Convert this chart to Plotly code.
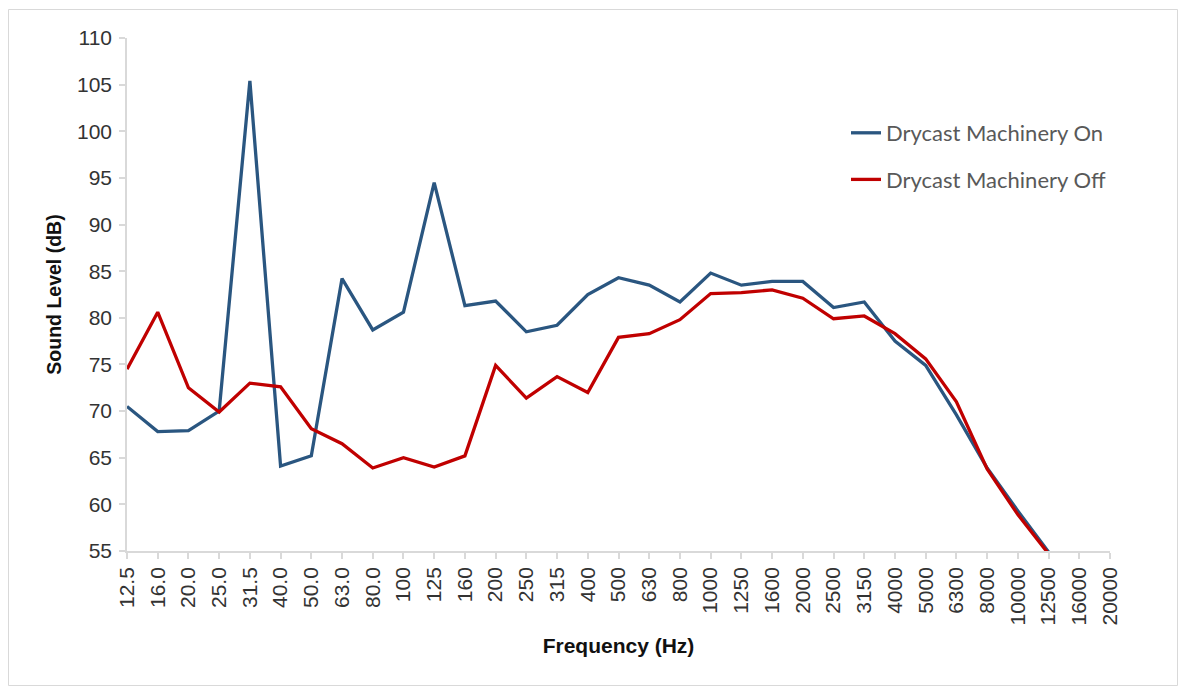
import plotly.graph_objects as go

freqs = ["12.5", "16.0", "20.0", "25.0", "31.5", "40.0", "50.0", "63.0", "80.0",
         "100", "125", "160", "200", "250", "315", "400", "500", "630", "800",
         "1000", "1250", "1600", "2000", "2500", "3150", "4000", "5000", "6300",
         "8000", "10000", "12500", "16000", "20000"]

machinery_on = [70.5, 67.8, 67.9, 70.0, 105.4, 64.1, 65.2, 84.2, 78.7,
                80.6, 94.5, 81.3, 81.8, 78.5, 79.2, 82.5, 84.3, 83.5, 81.7,
                84.8, 83.5, 83.9, 83.9, 81.1, 81.7, 77.5, 74.9, 69.6,
                63.9, 59.3, 54.9, None, None]

machinery_off = [74.5, 80.6, 72.5, 69.9, 73.0, 72.6, 68.1, 66.5, 63.9,
                 65.0, 64.0, 65.2, 74.9, 71.4, 73.7, 72.0, 77.9, 78.3, 79.8,
                 82.6, 82.7, 83.0, 82.1, 79.9, 80.2, 78.3, 75.6, 71.0,
                 63.8, 58.9, 54.7, None, None]

y_ticks = [55, 60, 65, 70, 75, 80, 85, 90, 95, 100, 105, 110]

fig = go.Figure()
fig.add_trace(go.Scatter(x=freqs, y=machinery_on, mode="lines",
                         name="Drycast Machinery On", legendgroup="a",
                         line=dict(color="#2a5680", width=3.3)))
fig.add_trace(go.Scatter(x=freqs, y=machinery_off, mode="lines",
                         name="Drycast Machinery Off", legendgroup="b",
                         line=dict(color="#c00000", width=3.3)))

OFF = 8  # page body margin
W, H = 1170, 678
# target plot area in screen pixels
SL, SR, ST, SB = 127, 1110, 38, 551
L = SL - OFF
T = ST - OFF
R = W - (SR - OFF)
B = H - (SB - OFF)
pw, ph = W - L - R, H - T - B

def px(xs):
    return (xs - OFF - L) / pw

def py(ys):
    return (H - B - (ys - OFF)) / ph

fig.update_layout(
    width=W, height=H,
    margin=dict(l=L, r=R, t=T, b=B, autoexpand=False),
    paper_bgcolor="white", plot_bgcolor="white",
    font=dict(family="Liberation Sans, Arial, sans-serif", color="#333333"),
    showlegend=True,
    legend=dict(x=px(846), y=py(112), xanchor="left", yanchor="top",
                font=dict(family="Lato, sans-serif", size=22, color="#595959"),
                tracegroupgap=15, bgcolor="rgba(0,0,0,0)"),
    shapes=[dict(type="rect", xref="paper", yref="paper",
                 x0=px(8.5), x1=px(1177.5), y0=py(685.5), y1=py(9.5),
                 line=dict(color="#d9d9d9", width=1), fillcolor="rgba(0,0,0,0)",
                 layer="below")],
)

fig.update_xaxes(
    type="category", categoryorder="array", categoryarray=freqs,
    range=[0, len(freqs) - 1],
    tickangle=-90, tickfont=dict(size=21, color="#333333"),
    showline=True, linecolor="#d9d9d9", linewidth=1.5,
    ticks="outside", ticklen=6, tickcolor="#d9d9d9", tickwidth=1.5,
    showgrid=False, zeroline=False,
    title=dict(text="<b>Frequency (Hz)</b>", font=dict(size=21, color="#111111"), standoff=14),
)
fig.update_yaxes(
    range=[55, 110], tickvals=y_ticks, tickfont=dict(size=21, color="#333333"),
    showline=True, linecolor="#d9d9d9", linewidth=1.5,
    ticks="outside", ticklen=6, tickcolor="#d9d9d9", tickwidth=1.5,
    ticklabelstandoff=3,
    showgrid=False, zeroline=False,
    title=dict(text="<b>Sound Level (dB)</b>", font=dict(size=19.5, color="#111111"), standoff=10),
)

fig.write_html("out.html")
